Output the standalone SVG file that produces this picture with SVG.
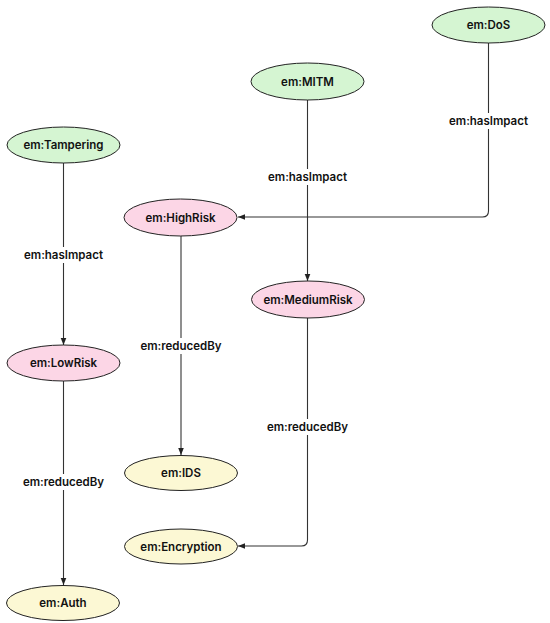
<svg xmlns="http://www.w3.org/2000/svg" width="550" height="623" viewBox="0 0 550 623">
<style>
  text { font-family: Inter, "Liberation Sans", sans-serif; font-size: 11.5px; font-weight: 600; fill: #111; text-anchor: middle; dominant-baseline: central; }
  .threat { fill: #d5f5d2; stroke: #222; stroke-width: 1; }
  .risk { fill: #fcd6e6; stroke: #222; stroke-width: 1; }
  .ctrl { fill: #fcf8d4; stroke: #222; stroke-width: 1; }
  .edge { fill: none; stroke: #333; stroke-width: 1.1; }
  .lblbg { fill: #fff; }
</style>
<defs>
  <marker id="arr" viewBox="0 0 10 10" refX="10" refY="5" markerWidth="7" markerHeight="7" orient="auto-start-reverse" markerUnits="userSpaceOnUse">
    <path d="M0,1 L10,5 L0,9 z" fill="#222"/>
  </marker>
</defs>
<rect width="550" height="623" fill="#fff"/>
<g id="connectors">
  <path class="edge" d="M63.5,163 V345" marker-end="url(#arr)"/>
  <path class="edge" d="M63.5,381 V585" marker-end="url(#arr)"/>
  <path class="edge" d="M181,236 V455" marker-end="url(#arr)"/>
  <path class="edge" d="M307.5,100 V281" marker-end="url(#arr)"/>
  <path class="edge" d="M488.5,43 V211 Q488.5,217 482.5,217 H238" marker-end="url(#arr)"/>
  <path class="edge" d="M307.5,318 V540 Q307.5,546 301.5,546 H238" marker-end="url(#arr)"/>
  <g id="labels">
    <rect class="lblbg" x="24" y="247" width="79" height="16"/>
    <text x="63.5" y="255">em:hasImpact</text>
    <rect class="lblbg" x="23" y="474" width="81" height="16"/>
    <text x="63.5" y="482">em:reducedBy</text>
    <rect class="lblbg" x="141" y="338" width="81" height="16"/>
    <text x="181" y="346">em:reducedBy</text>
    <rect class="lblbg" x="268" y="169" width="79" height="16"/>
    <text x="307.5" y="177">em:hasImpact</text>
    <rect class="lblbg" x="449" y="113" width="79" height="16"/>
    <text x="488.5" y="121">em:hasImpact</text>
    <rect class="lblbg" x="267" y="419" width="81" height="16"/>
    <text x="307.5" y="427">em:reducedBy</text>
  </g>
</g>
<g id="n-dos"><ellipse class="threat" cx="488.5" cy="25" rx="56.5" ry="18"/><text x="488.5" y="25">em:DoS</text></g>
<g id="n-mitm"><ellipse class="threat" cx="307.5" cy="81.5" rx="56.5" ry="18.5"/><text x="307.5" y="81.5">em:MITM</text></g>
<g id="n-tampering"><ellipse class="threat" cx="63.5" cy="145" rx="56.5" ry="18"/><text x="63.5" y="145">em:Tampering</text></g>
<g id="n-highrisk"><ellipse class="risk" cx="180.5" cy="217.5" rx="56.5" ry="18.5"/><text x="180.5" y="217.5">em:HighRisk</text></g>
<g id="n-mediumrisk"><ellipse class="risk" cx="308" cy="299.5" rx="56.5" ry="18.5"/><text x="308" y="299.5">em:MediumRisk</text></g>
<g id="n-lowrisk"><ellipse class="risk" cx="63.5" cy="363" rx="56.5" ry="18"/><text x="63.5" y="363">em:LowRisk</text></g>
<g id="n-ids"><ellipse class="ctrl" cx="181" cy="473" rx="56.5" ry="17.5"/><text x="181" y="473">em:IDS</text></g>
<g id="n-encryption"><ellipse class="ctrl" cx="181" cy="546.5" rx="56.5" ry="17.5"/><text x="181" y="546.5">em:Encryption</text></g>
<g id="n-auth"><ellipse class="ctrl" cx="63" cy="603" rx="56.5" ry="17.5"/><text x="63" y="603">em:Auth</text></g>
</svg>
